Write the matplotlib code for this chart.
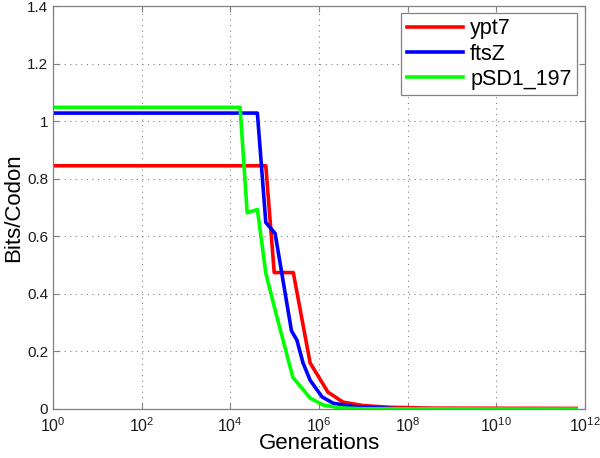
import matplotlib
matplotlib.use("Agg")
import matplotlib.pyplot as plt
import numpy as np
from matplotlib.ticker import NullLocator

plt.rcParams['font.family'] = ['Liberation Sans', 'DejaVu Sans']

# log10(generations) and bits/codon for each gene
ypt7_logx = [0.0, 4.80, 4.99, 5.42, 5.80, 6.20, 6.54, 6.99, 7.60, 8.5, 11.8]
ypt7_y    = [0.845, 0.845, 0.474, 0.474, 0.16, 0.059, 0.024, 0.012, 0.006, 0.003, 0.002]

ftsZ_logx = [0.0, 4.61, 4.80, 5.01, 5.38, 5.50, 5.64, 5.80, 6.07, 6.32, 6.86, 7.8, 11.8]
ftsZ_y    = [1.028, 1.028, 0.648, 0.61, 0.271, 0.24, 0.16, 0.10, 0.042, 0.02, 0.007, 0.001, 0.0]

psd_logx = [0.0, 4.22, 4.38, 4.61, 4.80, 5.00, 5.41, 5.80, 6.09, 6.47, 6.93, 11.8]
psd_y    = [1.048, 1.048, 0.682, 0.693, 0.472, 0.35, 0.11, 0.038, 0.014, 0.004, 0.001, 0.0]

labels = ['ypt7', 'ftsZ', 'pSD1_197']
colors = ['#ff0000', '#0000ff', '#00ff00']
xticks = [1e0, 1e2, 1e4, 1e6, 1e8, 1e10, 1e12]
yticks = [0, 0.2, 0.4, 0.6, 0.8, 1.0, 1.2, 1.4]
ytick_labels = ['0', '0.2', '0.4', '0.6', '0.8', '1', '1.2', '1.4']

fig = plt.figure(figsize=(6, 4.58), dpi=100)
ax = fig.add_axes([53/600, 49/458, 532/600, 403/458])

series = [(ypt7_logx, ypt7_y), (ftsZ_logx, ftsZ_y), (psd_logx, psd_y)]
for (lx, y), lab, c in zip(series, labels, colors):
    ax.plot(10.0 ** np.array(lx), y, color=c, lw=2.6, label=lab)

ax.set_xscale('log')
ax.set_xlim(1e0, 1e12)
ax.set_ylim(0, 1.4)
ax.set_xticks(xticks)
ax.xaxis.set_minor_locator(NullLocator())
ax.set_yticks(yticks)
ax.set_yticklabels(ytick_labels)

ax.grid(True, which='major', linestyle=(0, (1, 4)), color='#808080', lw=0.8)
ax.tick_params(direction='in', top=True, right=True, length=4, color='#808080',
               labelsize=11, labelcolor='#1a1a1a')
ax.tick_params(axis='x', labelsize=11.5, pad=5)
for s in ax.spines.values():
    s.set_color('#808080')
    s.set_linewidth(0.9)

ax.set_xlabel('Generations', fontsize=16, labelpad=-1)
ax.set_ylabel('Bits/Codon', fontsize=16, labelpad=2)

leg = ax.legend(loc='upper right', bbox_to_anchor=(577/600, (458-13)/458),
                bbox_transform=fig.transFigure, fontsize=15.5, fancybox=False,
                edgecolor='#808080', framealpha=1, handlelength=2.6,
                handletextpad=0.35, labelspacing=0.2, borderpad=0.25,
                borderaxespad=0)
leg.get_frame().set_linewidth(0.9)

fig.savefig('out.png', dpi=100)
